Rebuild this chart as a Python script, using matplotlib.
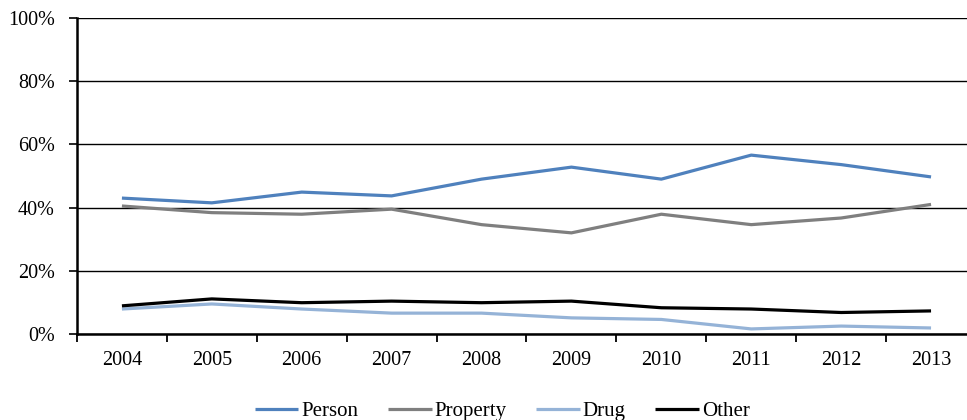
import matplotlib.pyplot as plt
import matplotlib
import numpy as np
from matplotlib.ticker import FixedLocator, PercentFormatter

matplotlib.rcParams['font.family'] = ['Liberation Serif', 'DejaVu Serif']

years = ["2004", "2005", "2006", "2007", "2008", "2009", "2010", "2011", "2012", "2013"]
person   = [43.0, 41.5, 44.9, 43.7, 49.0, 52.8, 49.0, 56.6, 53.6, 49.7]
property_ = [40.5, 38.4, 37.9, 39.5, 34.6, 32.0, 37.9, 34.6, 36.7, 41.0]
drug     = [7.9, 9.5, 7.9, 6.6, 6.6, 5.1, 4.6, 1.6, 2.5, 1.9]
other    = [8.9, 11.1, 9.9, 10.4, 9.9, 10.4, 8.3, 7.9, 6.8, 7.3]

series = [("Person", person, "#4F81BD"),
          ("Property", property_, "#7F7F7F"),
          ("Drug", drug, "#95B3D7"),
          ("Other", other, "#000000")]

fig = plt.figure(figsize=(9.67, 4.2), dpi=100)
# plot area runs slightly past the right edge of the picture
ax = fig.add_axes([0.0796, 0.2048, 0.9297, 0.7524])

x = np.arange(len(years))
for name, vals, col in series:
    ax.plot(x, vals, color=col, linewidth=2.3, label=name, solid_capstyle="butt")

ax.set_xlim(-0.5, len(years) - 0.5)
ax.set_ylim(0, 100)
ax.set_yticks(np.arange(0, 101, 20))
ax.yaxis.set_major_formatter(PercentFormatter(decimals=0))
ax.grid(axis="y", color="black", linewidth=1)
ax.set_axisbelow(True)

# ticks at category boundaries, labels at centres
ax.xaxis.set_major_locator(FixedLocator(np.arange(-0.5, len(years), 1.0)))
ax.xaxis.set_minor_locator(FixedLocator(x))
ax.set_xticklabels([])
ax.set_xticklabels(years, minor=True)
ax.tick_params(axis="x", which="major", length=6, width=1.3, direction="out")
ax.tick_params(axis="x", which="minor", length=0, pad=12, labelsize=14.5)
ax.tick_params(axis="y", length=6, width=1.2, pad=10, labelsize=14.5)

for s in ["top", "right"]:
    ax.spines[s].set_visible(False)
ax.spines["left"].set_linewidth(1.8)
ax.spines["bottom"].set_linewidth(1.8)

ax.legend(loc="center", bbox_to_anchor=(0.473, -0.245), ncol=4, frameon=False,
          fontsize=15, handlelength=2.1, handletextpad=0.15, columnspacing=1.4)

plt.savefig("out.png", dpi=100)
